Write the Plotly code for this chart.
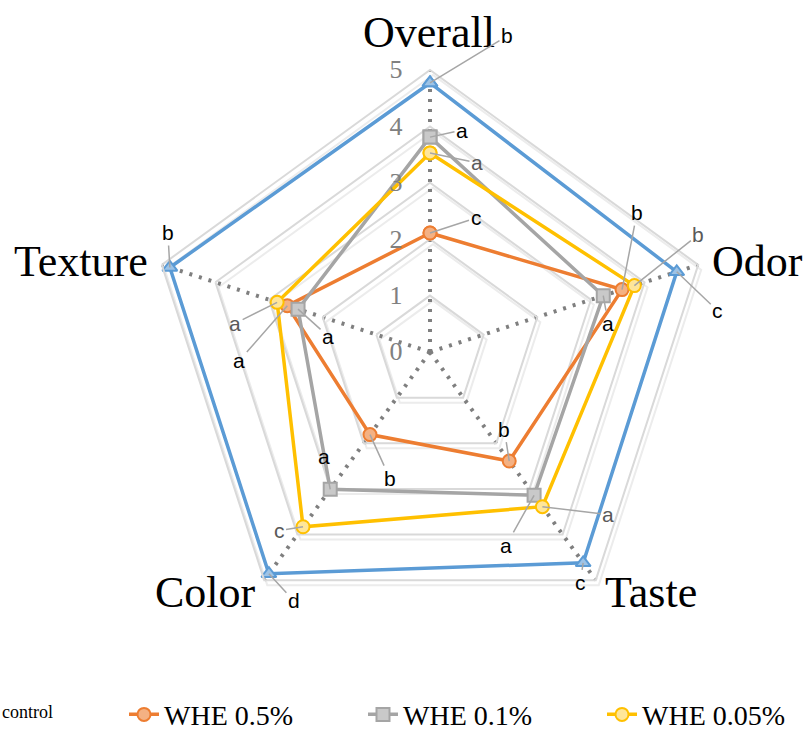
import math
import plotly.graph_objects as go

# ---------------- data ----------------
categories = ["Overall", "Odor", "Taste", "Color", "Texture"]
control = [4.77, 4.60, 4.62, 4.86, 4.85]
whe_05 = [2.11, 3.58, 2.39, 1.81, 2.66]
whe_01 = [3.81, 3.23, 3.14, 3.01, 2.46]
whe_005 = [3.53, 3.81, 3.39, 3.83, 2.85]

control_letters = ["b", "c", "c", "d", "b"]
whe_05_letters = ["c", "b", "b", "b", "a"]
whe_01_letters = ["a", "a", "a", "a", "a"]
whe_005_letters = ["a", "b", "a", "c", "a"]

series_names = ["control", "WHE 0.5%", "WHE 0.1%", "WHE 0.05%"]
radial_ticks = [0, 1, 2, 3, 4, 5]

# ---------------- layout geometry ----------------
W, H = 803, 733
CX, CY, R = 430, 352, 282
RMAX = 5
SHADOW_DX, SHADOW_DY = 3, 5

# category label shifts (pixels, style only)
cat_shift = {"Overall": (-1, 38), "Odor": (59, 3), "Taste": (55, -12),
             "Color": (-59, -12), "Texture": (-81, 3)}

# letter label offsets (pixels) for each series / category (style only)
offsets = {
    "control": [(77, -47), (41, 39), (-3, 20), (25, 27), (-2, -35)],
    "WHE 0.5%": [(46, -15), (15, -77), (-5, -32), (20, 44), (-48, 55)],
    "WHE 0.1%": [(32, -7), (5, 28), (-28, 50), (-6, -33), (30, 27)],
    "WHE 0.05%": [(47, 10), (64, -51), (66, 8), (-24, 4), (-42, 21)],
}

# legend placement per series (style only)
legend_ids = {"control": "legend", "WHE 0.5%": "legend2", "WHE 0.1%": "legend3", "WHE 0.05%": "legend4"}
legend_x_px = {"control": -38, "WHE 0.5%": 124, "WHE 0.1%": 363, "WHE 0.05%": 602}


def to_paper(r, cat):
    a = math.radians(categories.index(cat) * 360 / len(categories))
    px = CX + r / RMAX * R * math.sin(a)
    py = CY - r / RMAX * R * math.cos(a)
    return px / W, 1 - py / H


def domain(dx=0, dy=0):
    return dict(x=[(CX + dx - R) / W, (CX + dx + R) / W],
                y=[1 - (CY + dy + R) / H, 1 - (CY + dy - R) / H])


styles = {
    "control": dict(line="#5b9bd5", fill="#9dc3e6", symbol="triangle-up"),
    "WHE 0.5%": dict(line="#ed7d31", fill="#f4b183", symbol="circle"),
    "WHE 0.1%": dict(line="#a5a5a5", fill="#c9c9c9", symbol="square"),
    "WHE 0.05%": dict(line="#ffc000", fill="#ffe699", symbol="circle"),
}

values = {"control": control, "WHE 0.5%": whe_05, "WHE 0.1%": whe_01, "WHE 0.05%": whe_005}
letters = {"control": control_letters, "WHE 0.5%": whe_05_letters,
           "WHE 0.1%": whe_01_letters, "WHE 0.05%": whe_005_letters}

fig = go.Figure()
# invisible trace so that the shadow grid subplot is drawn
fig.add_trace(go.Scatterpolar(r=[0], theta=[categories[0]], subplot="polar", mode="markers",
                              marker=dict(opacity=0), showlegend=False, hoverinfo="skip"))
for name in series_names:
    st = styles[name]
    v = values[name]
    fig.add_trace(go.Scatterpolar(
        r=v + [v[0]], theta=categories + [categories[0]], subplot="polar2",
        mode="lines+markers", name=name,
        line=dict(color=st["line"], width=3.5),
        marker=dict(symbol=st["symbol"], size=13, color=st["fill"],
                    line=dict(color=st["line"], width=2)),
        legend=legend_ids[name],
    ))

annotations = []
for cat in categories:
    x, y = to_paper(RMAX, cat)
    xs, ys = cat_shift[cat]
    annotations.append(dict(x=x, y=y, xref="paper", yref="paper", text=cat, showarrow=False,
                            xshift=xs, yshift=ys, xanchor="center", yanchor="middle",
                            font=dict(family="Liberation Serif", size=44, color="#000000")))
for name in series_names:
    for i, cat in enumerate(categories):
        x, y = to_paper(values[name][i], cat)
        ax, ay = offsets[name][i]
        annotations.append(dict(
            x=x, y=y, xref="paper", yref="paper", text=letters[name][i],
            showarrow=True, arrowhead=0, arrowwidth=1.5, arrowcolor="#a6a6a6",
            ax=ax, ay=ay, standoff=0,
            font=dict(family="Liberation Sans", size=21,
                      color="#595959" if name == "WHE 0.05%" else "#000000"),
        ))

legend_layouts = {}
for name in series_names:
    legend_layouts[legend_ids[name]] = dict(
        orientation="h", x=legend_x_px[name] / W,
        y=0.029 if name == "control" else 0.025,
        xanchor="left", yanchor="middle",
        font=dict(family="Liberation Serif", size=18 if name == "control" else 28, color="#000000"),
        bgcolor="rgba(0,0,0,0)",
    )

common_angular = dict(rotation=90, direction="clockwise", categoryorder="array",
                      categoryarray=categories, ticks="", showticklabels=False)

fig.update_layout(
    width=W, height=H,
    margin=dict(l=0, r=0, t=0, b=0, autoexpand=False),
    paper_bgcolor="white", plot_bgcolor="white",
    # shadow of the grid
    polar=dict(
        domain=domain(SHADOW_DX, SHADOW_DY), gridshape="linear", bgcolor="rgba(0,0,0,0)",
        radialaxis=dict(range=[0, RMAX], tickvals=radial_ticks, showline=False,
                        showticklabels=False, ticks="", gridcolor="#ececec", gridwidth=2),
        angularaxis=dict(showgrid=False, showline=True, linecolor="#ececec", linewidth=2,
                         **common_angular),
    ),
    # main chart
    polar2=dict(
        domain=domain(), gridshape="linear", bgcolor="rgba(0,0,0,0)",
        radialaxis=dict(
            range=[0, RMAX], tickvals=radial_ticks, angle=90, side="counterclockwise",
            showline=False, gridcolor="#d9d9d9", gridwidth=2,
            ticks="outside", ticklen=18, tickcolor="rgba(0,0,0,0)", tickangle=90,
            tickfont=dict(family="Liberation Serif", size=26, color="#808080"),
        ),
        angularaxis=dict(showline=True, linecolor="#d9d9d9", linewidth=2,
                         gridcolor="#7f7f7f", gridwidth=4, griddash="3px,7px",
                         **common_angular),
    ),
    annotations=annotations,
    showlegend=True,
    **legend_layouts,
)

fig.write_html("out.html")
